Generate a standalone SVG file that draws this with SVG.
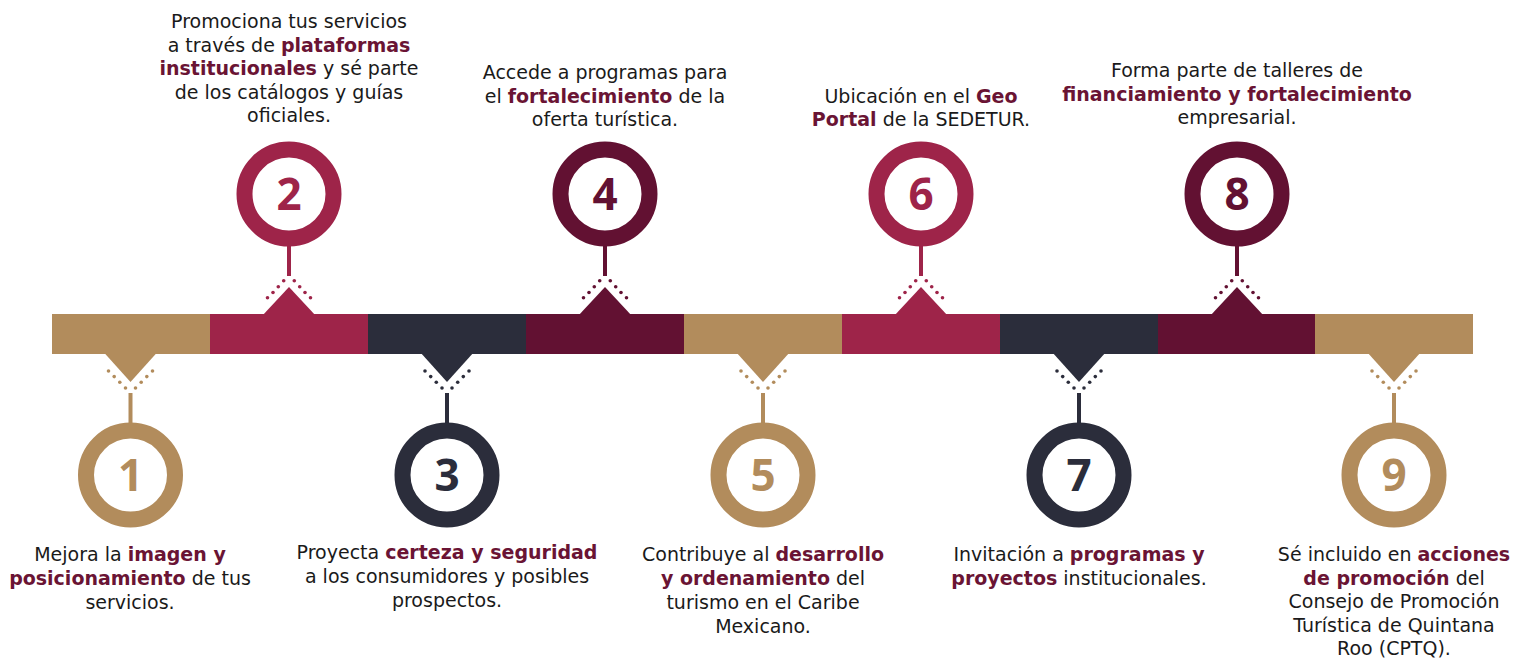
<svg xmlns="http://www.w3.org/2000/svg" xmlns:xlink="http://www.w3.org/1999/xlink" width="1530" height="658" viewBox="0 0 1530 658">
<style>
.t{font-family:"DejaVu Sans","Liberation Sans",sans-serif;font-size:19px;fill:#1a1a1a;text-anchor:middle}
.b{font-weight:700;fill:#6a1434}
.n{font-family:"Open Sans","Noto Sans","Liberation Sans",sans-serif;font-size:44px;font-weight:700;text-anchor:middle}
.gold{color:#b28c5c}
.crim{color:#9e2449}
.navy{color:#2b2d3b}
.maroon{color:#621132}
</style>
<defs>
<g id="down" fill="currentColor" stroke="currentColor">
<polygon points="-27,352 27,352 0,382" stroke="none"/>
<g stroke="none">
<circle cx="-22" cy="371" r="1.8"/><circle cx="-16.3" cy="376.6" r="1.8"/><circle cx="-10.7" cy="382.2" r="1.8"/><circle cx="-5" cy="388" r="1.8"/>
<circle cx="22" cy="371" r="1.8"/><circle cx="16.3" cy="376.6" r="1.8"/><circle cx="10.7" cy="382.2" r="1.8"/><circle cx="5" cy="388" r="1.8"/>
</g>
<line x1="0" y1="393" x2="0" y2="424" stroke-width="4"/>
<circle cx="0" cy="475" r="44.5" fill="#fff" stroke-width="16"/>
</g>
<g id="up" fill="currentColor" stroke="currentColor">
<polygon points="-27,316 27,316 0,287" stroke="none"/>
<g stroke="none">
<circle cx="-21.5" cy="297.7" r="1.8"/><circle cx="-16" cy="292.5" r="1.8"/><circle cx="-10.7" cy="286.7" r="1.8"/><circle cx="-5.3" cy="280.7" r="1.8"/>
<circle cx="21.5" cy="297.7" r="1.8"/><circle cx="16" cy="292.5" r="1.8"/><circle cx="10.7" cy="286.7" r="1.8"/><circle cx="5.3" cy="280.7" r="1.8"/>
</g>
<line x1="0" y1="245" x2="0" y2="276" stroke-width="4"/>
<circle cx="0" cy="194" r="44.5" fill="#fff" stroke-width="16"/>
</g>
</defs>
<rect width="1530" height="658" fill="#fff"/>
<g id="bar">
<rect x="52" y="314" width="158.5" height="40" fill="#b28c5c"/>
<rect x="210" y="314" width="158.5" height="40" fill="#9e2449"/>
<rect x="368" y="314" width="158.5" height="40" fill="#2b2d3b"/>
<rect x="526" y="314" width="158.5" height="40" fill="#621132"/>
<rect x="684" y="314" width="158.5" height="40" fill="#b28c5c"/>
<rect x="842" y="314" width="158.5" height="40" fill="#9e2449"/>
<rect x="1000" y="314" width="158.5" height="40" fill="#2b2d3b"/>
<rect x="1158" y="314" width="157.5" height="40" fill="#621132"/>
<rect x="1315" y="314" width="158" height="40" fill="#b28c5c"/>
</g>
<g id="connectors">
<use xlink:href="#down" href="#down" x="130.5" class="gold"/>
<use xlink:href="#up" href="#up" x="289" class="crim"/>
<use xlink:href="#down" href="#down" x="447" class="navy"/>
<use xlink:href="#up" href="#up" x="605" class="maroon"/>
<use xlink:href="#down" href="#down" x="763" class="gold"/>
<use xlink:href="#up" href="#up" x="921" class="crim"/>
<use xlink:href="#down" href="#down" x="1079" class="navy"/>
<use xlink:href="#up" href="#up" x="1237" class="maroon"/>
<use xlink:href="#down" href="#down" x="1394" class="gold"/>
</g>
<g id="node1">
<text class="n" x="130.5" y="491" fill="#b28c5c">1</text>
<text class="t" x="130" y="561">Mejora la <tspan class="b">imagen y</tspan></text>
<text class="t" x="130" y="585"><tspan class="b">posicionamiento</tspan> de tus</text>
<text class="t" x="130" y="609">servicios.</text>
</g>
<g id="node2">
<text class="n" x="289" y="210" fill="#9e2449">2</text>
<text class="t" x="289" y="28">Promociona tus servicios</text>
<text class="t" x="289" y="51.5">a través de <tspan class="b">plataformas</tspan></text>
<text class="t" x="289" y="75"><tspan class="b">institucionales</tspan> y sé parte</text>
<text class="t" x="289" y="98.5">de los catálogos y guías</text>
<text class="t" x="289" y="122">oficiales.</text>
</g>
<g id="node3">
<text class="n" x="447" y="491" fill="#2b2d3b">3</text>
<text class="t" x="447" y="559">Proyecta <tspan class="b">certeza y seguridad</tspan></text>
<text class="t" x="447" y="583">a los consumidores y posibles</text>
<text class="t" x="447" y="607">prospectos.</text>
</g>
<g id="node4">
<text class="n" x="605" y="210" fill="#621132">4</text>
<text class="t" x="605" y="79">Accede a programas para</text>
<text class="t" x="605" y="102.5">el <tspan class="b">fortalecimiento</tspan> de la</text>
<text class="t" x="605" y="126">oferta turística.</text>
</g>
<g id="node5">
<text class="n" x="763" y="491" fill="#b28c5c">5</text>
<text class="t" x="763" y="561">Contribuye al <tspan class="b">desarrollo</tspan></text>
<text class="t" x="763" y="585"><tspan class="b">y ordenamiento</tspan> del</text>
<text class="t" x="763" y="609">turismo en el Caribe</text>
<text class="t" x="763" y="633">Mexicano.</text>
</g>
<g id="node6">
<text class="n" x="921" y="210" fill="#9e2449">6</text>
<text class="t" x="921" y="103">Ubicación en el <tspan class="b">Geo</tspan></text>
<text class="t" x="921" y="126"><tspan class="b">Portal</tspan> de la SEDETUR.</text>
</g>
<g id="node7">
<text class="n" x="1079" y="491" fill="#2b2d3b">7</text>
<text class="t" x="1079" y="561">Invitación a <tspan class="b">programas y</tspan></text>
<text class="t" x="1079" y="585"><tspan class="b">proyectos</tspan> institucionales.</text>
</g>
<g id="node8">
<text class="n" x="1237" y="210" fill="#621132">8</text>
<text class="t" x="1237" y="77">Forma parte de talleres de</text>
<text class="t" x="1237" y="100.5"><tspan class="b">financiamiento y fortalecimiento</tspan></text>
<text class="t" x="1237" y="124">empresarial.</text>
</g>
<g id="node9">
<text class="n" x="1394" y="491" fill="#b28c5c">9</text>
<text class="t" x="1394" y="561">Sé incluido en <tspan class="b">acciones</tspan></text>
<text class="t" x="1394" y="584.5"><tspan class="b">de promoción</tspan> del</text>
<text class="t" x="1394" y="608">Consejo de Promoción</text>
<text class="t" x="1394" y="631.5">Turística de Quintana</text>
<text class="t" x="1394" y="655">Roo (CPTQ).</text>
</g>
</svg>
